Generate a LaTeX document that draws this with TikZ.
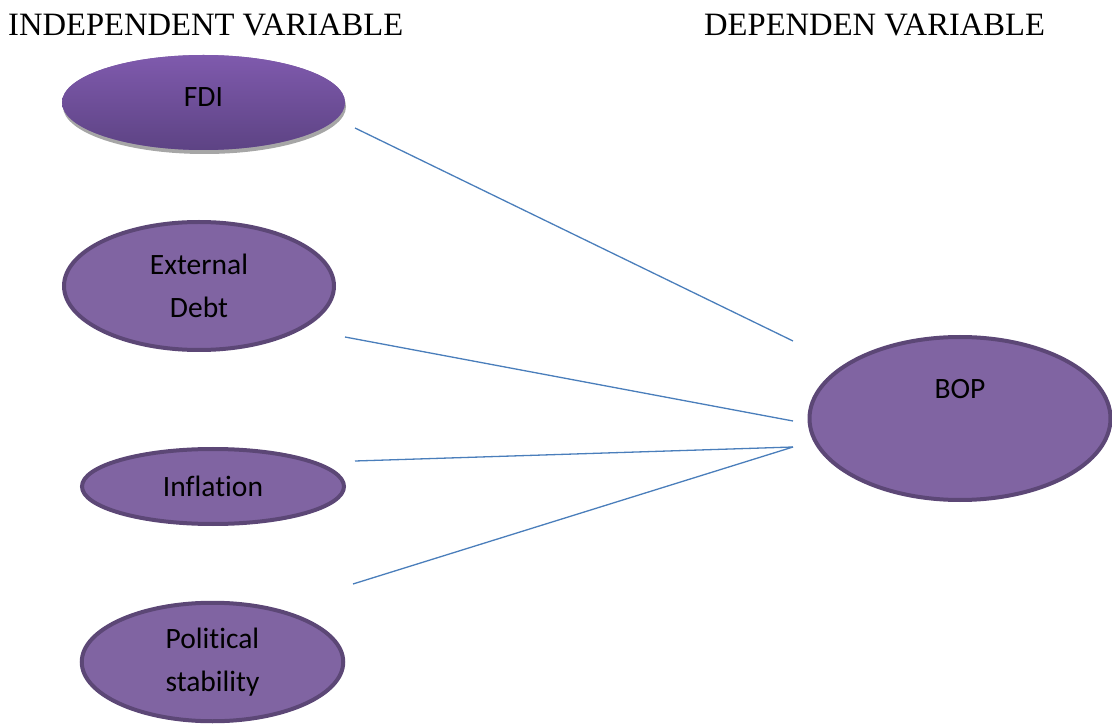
\documentclass[tikz,border=0pt]{standalone}
\usepackage{fontspec}
\setmainfont{Carlito}[Ligatures={NoCommon}]
\newfontfamily\headfont{Liberation Serif}
\usetikzlibrary{shapes.geometric,shadows}
\definecolor{bubblefill}{HTML}{8064A2}
\definecolor{bubbleline}{HTML}{5C4776}
\definecolor{fditop}{HTML}{7F5AAD}
\definecolor{fdibot}{HTML}{5D4384}
\definecolor{linkblue}{HTML}{4A7EBB}
\begin{document}
\begin{tikzpicture}[
		x=1pt, y=-1pt,
		bubble/.style={ellipse, draw=bubbleline, line width=4pt, fill=bubblefill, inner sep=0pt, align=center, font=\fontsize{29.5}{42.5}\selectfont},
		head/.style={font=\headfont\fontsize{32.6}{38}\selectfont, inner sep=0pt, anchor=base west},
		link/.style={linkblue, line width=1.3pt},
	]
	\useasboundingbox (0,0) rectangle (1112,727);

	% headings
	\node[head] (indep) at (8,35.5) {INDEPENDENT VARIABLE};
	\node[head] (dep) at (704,35.5) {DEPENDEN VARIABLE};

	% variables
	\node[bubble, draw=none, top color=fditop, bottom color=fdibot,
		drop shadow={shadow xshift=1pt, shadow yshift=-4pt, fill=black!35, opacity=1},
		minimum width=283pt, minimum height=95pt,
		label={[font=\fontsize{29.5}{42}\selectfont, yshift=5.5pt]center:FDI}] (fdi) at (203.5,102.5) {};
	\node[bubble, minimum width=270pt, minimum height=128pt] (debt) at (199,286) {External\\Debt};
	\node[bubble, minimum width=262pt, minimum height=75pt] (infl) at (213,486.5) {Inflation};
	\node[bubble, minimum width=261.5pt, minimum height=118.5pt] (pol) at (212.5,662) {Political\\stability};
	\node[bubble, minimum width=301pt, minimum height=163pt,
		label={[font=\fontsize{29.5}{42}\selectfont, yshift=29.5pt]center:BOP}] (bop) at (960,418.5) {};

	% link ends
	\coordinate (a1) at (355,128);
	\coordinate (a2) at (345,337);
	\coordinate (a3) at (355,461);
	\coordinate (a4) at (353,584);
	\coordinate (b1) at (793,341);
	\coordinate (b2) at (793,421);
	\coordinate (b3) at (793,447);

	\draw[link] (a1) -- (b1);
	\draw[link] (a2) -- (b2);
	\draw[link] (a3) -- (b3);
	\draw[link] (a4) -- (b3);
\end{tikzpicture}
\end{document}
